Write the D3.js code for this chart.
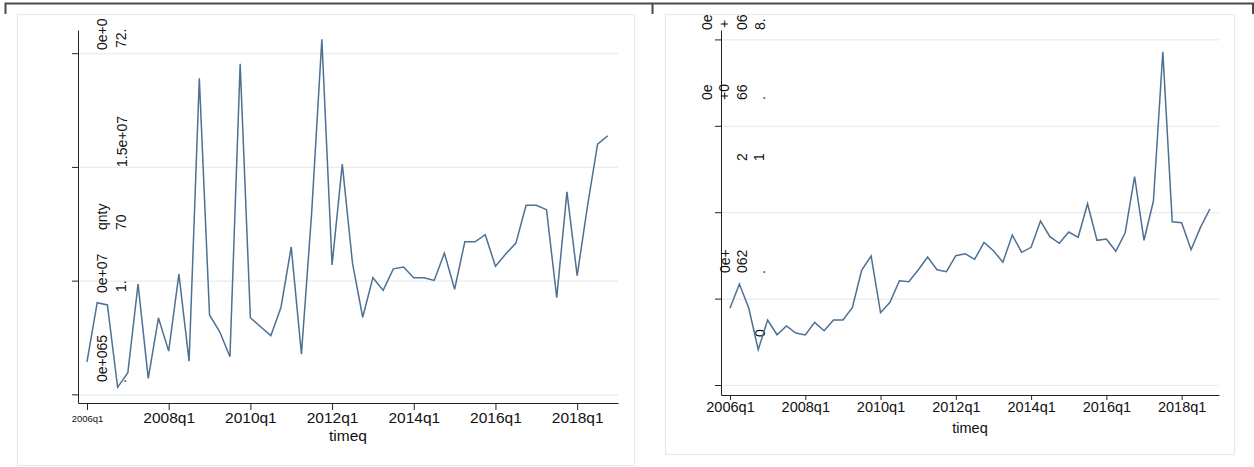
<!DOCTYPE html>
<html>
<head>
<meta charset="utf-8">
<script src="https://cdn.jsdelivr.net/npm/d3@7"></script>
<style>
  html, body { margin: 0; padding: 0; background: #fff; }
  svg { display: block; font-family: "Liberation Sans", Arial, sans-serif; }
</style>
</head>
<body>
<svg id="chart" width="1254" height="467"></svg>
<script>
// Quarterly periods on the x axis
const quarters = [
  "2006q1","2006q2","2006q3","2006q4","2007q1","2007q2","2007q3","2007q4",
  "2008q1","2008q2","2008q3","2008q4","2009q1","2009q2","2009q3","2009q4",
  "2010q1","2010q2","2010q3","2010q4","2011q1","2011q2","2011q3","2011q4",
  "2012q1","2012q2","2012q3","2012q4","2013q1","2013q2","2013q3","2013q4",
  "2014q1","2014q2","2014q3","2014q4","2015q1","2015q2","2015q3","2015q4",
  "2016q1","2016q2","2016q3","2016q4","2017q1","2017q2","2017q3","2017q4",
  "2018q1","2018q2","2018q3","2018q4"
];

// qnty, left panel
const qntyLeft = [
  6.43e6, 9.03e6, 8.93e6, 5.31e6, 5.95e6, 9.85e6, 5.70e6, 8.36e6, 6.90e6, 10.29e6,
  6.46e6, 18.90e6, 8.49e6, 7.75e6, 6.65e6, 19.53e6, 8.37e6, 7.97e6, 7.58e6, 8.83e6,
  11.48e6, 6.77e6, 12.97e6, 20.61e6, 10.69e6, 15.12e6, 10.77e6, 8.39e6, 10.13e6, 9.57e6,
  10.52e6, 10.60e6, 10.13e6, 10.13e6, 10.01e6, 11.21e6, 9.62e6, 11.71e6, 11.71e6, 12.02e6,
  10.63e6, 11.17e6, 11.65e6, 13.31e6, 13.31e6, 13.12e6, 9.25e6, 13.90e6, 10.22e6, 13.24e6,
  16.00e6, 16.37e6
];

// qnty, right panel
const qntyRight = [
  1.775e6, 2.338e6, 1.775e6, 0.817e6, 1.505e6, 1.164e6, 1.366e6, 1.204e6, 1.157e6, 1.451e6,
  1.257e6, 1.505e6, 1.505e6, 1.789e6, 2.662e6, 2.986e6, 1.674e6, 1.914e6, 2.414e6, 2.391e6,
  2.662e6, 2.963e6, 2.669e6, 2.623e6, 2.993e6, 3.039e6, 2.910e6, 3.303e6, 3.109e6, 2.840e6,
  3.472e6, 3.072e6, 3.188e6, 3.796e6, 3.433e6, 3.280e6, 3.542e6, 3.419e6, 4.197e6, 3.350e6,
  3.380e6, 3.095e6, 3.525e6, 4.822e6, 3.350e6, 4.259e6, 7.715e6, 3.780e6, 3.757e6, 3.132e6,
  3.650e6, 4.074e6
];

const xTickLabels = ["2006q1","2008q1","2010q1","2012q1","2014q1","2016q1","2018q1"];
const leftYTicks = [5e6, 1e7, 1.5e7, 2e7];
const rightYTicks = [0, 2e6, 4e6, 6e6, 8e6];
// y label fragments, as rendered by the exporter
const leftYLabelText = ["0e+0", "72.", "1.5e+07", "qnty", "70", "0e+07", "1.", "0e+065", "."];
const rightYLabelText = ["0e", "+", "06", "8.", "0e", "+0", "66", ".", "2", "1", "0e+", "062", ".", "0"];
const xTitle = "timeq";

const svg = d3.select("#chart");

const LINE = "#4d7093";
const GRID = "#e6eef0";
const FRAME = "#e3ebee";
const AXIS = "#222";

// outer frame strip at the top
svg.append("path")
  .attr("d", "M5.5,14 V3.5 H1253 V14 M652.5,3.5 V14")
  .attr("fill", "none").attr("stroke", "#4a4a4a").attr("stroke-width", 2);

function drawPanel(o) {
  const g = svg.append("g");
  g.append("rect")
    .attr("x", o.box[0] + 0.5).attr("y", o.box[1] + 0.5)
    .attr("width", o.box[2] - o.box[0]).attr("height", o.box[3] - o.box[1])
    .attr("fill", "#fff").attr("stroke", FRAME).attr("stroke-width", 1.2);

  const x = d3.scaleLinear().domain(o.xDomain).range([o.left, o.right]);
  const y = d3.scaleLinear().domain(o.yDomain).range([o.bottom, o.top]);
  const tickIdx = o.xTicks.map(q => quarters.indexOf(q));

  // horizontal gridlines
  g.append("g")
    .attr("transform", `translate(${o.left},0)`)
    .call(d3.axisLeft(y).tickValues(o.yTicks).tickSize(-(o.right - o.left)).tickFormat(""))
    .call(s => s.select(".domain").remove())
    .call(s => s.selectAll(".tick line").attr("stroke", GRID).attr("stroke-width", 1.2));

  // y axis
  g.append("g")
    .attr("transform", `translate(${o.left},0)`)
    .call(d3.axisLeft(y).tickValues(o.yTicks).tickSize(6).tickSizeOuter(0).tickFormat(""))
    .call(s => s.selectAll("path,line").attr("stroke", AXIS));

  // x axis
  const xa = g.append("g")
    .attr("transform", `translate(0,${o.bottom})`)
    .call(d3.axisBottom(x).tickValues(tickIdx).tickSize(o.xTickLen).tickSizeOuter(0)
      .tickPadding(2).tickFormat(i => quarters[i]))
    .call(s => s.selectAll("path,line").attr("stroke", AXIS));
  xa.selectAll("text")
    .attr("fill", "#111")
    .attr("font-family", "Liberation Sans, Arial, sans-serif")
    .attr("font-size", o.xFont);
  if (o.firstTickSmall) {
    xa.selectAll("text").filter((d, i) => i === 0)
      .attr("font-size", 9.5).attr("y", 12);
  }

  // x title
  g.append("text")
    .attr("x", (o.left + o.right) / 2).attr("y", o.titleY)
    .attr("text-anchor", "middle").attr("font-size", o.xFont).attr("fill", "#111")
    .text(xTitle);

  // y label fragments (rotated)
  o.yLabels.forEach((t, i) => {
    const p = o.yLabelPos[i];
    g.append("text")
      .attr("transform", `translate(${p[0]},${p[1]}) rotate(-90)`)
      .attr("font-size", 14).attr("fill", "#111")
      .text(t);
  });

  // series line
  g.append("path")
    .datum(o.values)
    .attr("fill", "none")
    .attr("stroke", LINE)
    .attr("stroke-width", 1.5)
    .attr("stroke-linejoin", "miter")
    .attr("d", d3.line().x((d, i) => x(i)).y(d => y(d)));
}

drawPanel({
  box: [17, 14, 634, 465],
  left: 78, right: 618, top: 30, bottom: 403,
  xDomain: [-0.88, 52.0],
  yDomain: [4.62e6, 21.02e6],
  yTicks: leftYTicks,
  xTicks: xTickLabels,
  xTickLen: 7,
  xFont: 15.5,
  firstTickSmall: true,
  titleY: 441,
  values: qntyLeft,
  yLabels: leftYLabelText,
  yLabelPos: [[107, 50], [126, 48], [127, 167], [107, 230], [126, 230],
              [107, 293], [126, 292], [107, 382], [126, 383]]
});

drawPanel({
  box: [665, 14, 1234, 454],
  left: 721, right: 1219, top: 30, bottom: 395,
  xDomain: [-0.956, 51.97],
  yDomain: [-0.231e6, 8.218e6],
  yTicks: rightYTicks,
  xTicks: xTickLabels,
  xTickLen: 5,
  xFont: 14.5,
  firstTickSmall: false,
  titleY: 433,
  values: qntyRight,
  yLabels: rightYLabelText,
  yLabelPos: [[712, 30], [729, 28], [747, 30], [765, 30],
              [712, 100], [729, 100], [747, 100], [765, 100],
              [747, 161], [764, 161],
              [730, 273], [747, 273], [765, 274], [765, 337]]
});
</script>
</body>
</html>
